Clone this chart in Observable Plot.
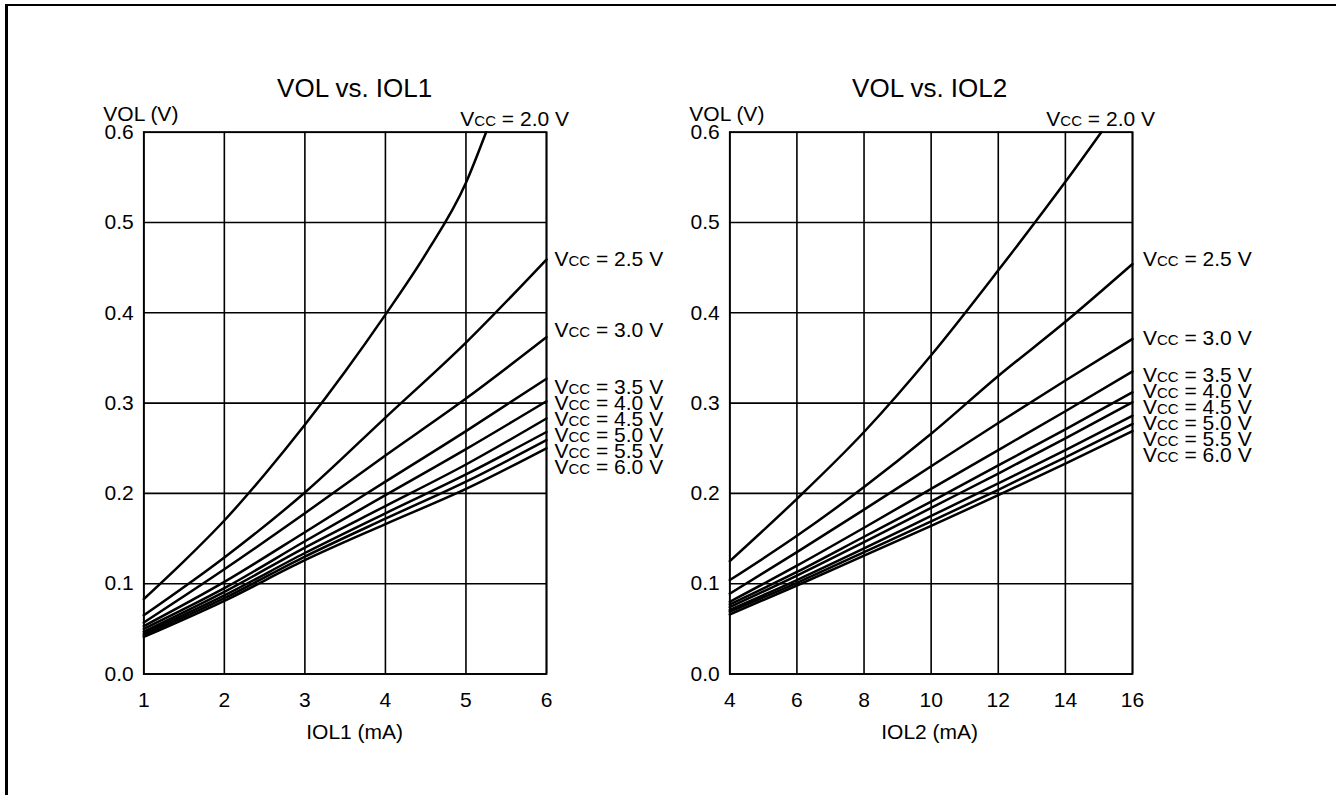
<!DOCTYPE html>
<html><head><meta charset="utf-8">
<script src="https://cdn.jsdelivr.net/npm/d3@7"></script>
<script src="https://cdn.jsdelivr.net/npm/@observablehq/plot@0.6"></script>
<style>
html,body{margin:0;padding:0;background:#fff;}
#page{position:relative;width:1336px;height:795px;overflow:hidden;background:#fff;}
#frame{position:absolute;left:5px;top:4px;width:1400px;height:900px;border-left:3px solid #000;border-top:2.5px solid #000;}
.panel{position:absolute;top:0;}
</style></head>
<body><div id="page"><div id="frame"></div><div id="p1" class="panel" style="left:0"></div><div id="p2" class="panel" style="left:668px"></div></div>
<script>
// ---- shared ----
const vccNames = ["2.5","3.0","3.5","4.0","4.5","5.0","5.5","6.0"];
const volTicks = [0, 0.1, 0.2, 0.3, 0.4, 0.5, 0.6];

// ---- panel 1 : VOL vs. IOL1 ----
const iol1Ticks = [1, 2, 3, 4, 5, 6];
const iol1Vcc20 = [1, 1.5, 2, 2.5, 3, 3.5, 4, 4.5, 5, 5.25];
const vol1Vcc20 = [0.083, 0.125, 0.170, 0.221, 0.276, 0.335, 0.398, 0.465, 0.544, 0.6];
const iol1Points = [1, 2, 3, 4, 5, 6];
const vol1Rows = [
  [0.065, 0.129, 0.201, 0.284, 0.367, 0.459], // 2.5
  [0.057, 0.116, 0.178, 0.242, 0.305, 0.373], // 3.0
  [0.053, 0.102, 0.157, 0.213, 0.269, 0.327], // 3.5
  [0.050, 0.095, 0.147, 0.198, 0.249, 0.302], // 4.0
  [0.047, 0.091, 0.140, 0.186, 0.232, 0.283], // 4.5
  [0.045, 0.087, 0.134, 0.178, 0.221, 0.268], // 5.0
  [0.043, 0.084, 0.130, 0.172, 0.213, 0.259], // 5.5
  [0.041, 0.081, 0.126, 0.166, 0.205, 0.250]  // 6.0
];
const vol1LabelAt = [0.459, 0.381, 0.317, 0.300, 0.2826, 0.2641, 0.2467, 0.229];

// ---- panel 2 : VOL vs. IOL2 ----
const iol2Ticks = [4, 6, 8, 10, 12, 14, 16];
const iol2Vcc20 = [4, 6, 8, 10, 12, 14, 15.07];
const vol2Vcc20 = [0.125, 0.194, 0.268, 0.353, 0.447, 0.545, 0.6];
const iol2Points = [4, 6, 8, 10, 12, 14, 16];
const vol2Rows = [
  [0.104, 0.153, 0.207, 0.266, 0.330, 0.390, 0.454], // 2.5
  [0.089, 0.135, 0.182, 0.230, 0.278, 0.325, 0.371], // 3.0
  [0.080, 0.120, 0.162, 0.205, 0.248, 0.291, 0.335], // 3.5
  [0.077, 0.113, 0.152, 0.191, 0.231, 0.271, 0.312], // 4.0
  [0.074, 0.109, 0.146, 0.184, 0.222, 0.261, 0.301], // 4.5
  [0.071, 0.104, 0.139, 0.175, 0.211, 0.248, 0.286], // 5.0
  [0.069, 0.101, 0.135, 0.169, 0.204, 0.240, 0.277], // 5.5
  [0.066, 0.098, 0.131, 0.164, 0.198, 0.233, 0.269]  // 6.0
];
const vol2LabelAt = [0.459, 0.3723, 0.3311, 0.3134, 0.2957, 0.2777, 0.2594, 0.242];

const FONT = "'Liberation Sans', Arial, Helvetica, sans-serif";

function panel(cfg) {
  const lines = [];
  cfg.x20.forEach((x, i) => lines.push({vcc: "2.0", x, y: cfg.y20[i]}));
  cfg.rows.forEach((row, k) => row.forEach((y, i) => lines.push({vcc: vccNames[k], x: cfg.xs[i], y})));
  const labels = vccNames.map((v, k) => ({text: `Vcc = ${v} V`, y: cfg.labelAt[k]}));
  return Plot.plot({
    width: 668, height: 795,
    marginLeft: cfg.ml, marginRight: cfg.mr, marginTop: 131.7, marginBottom: 121.5,
    style: {background: "transparent", overflow: "visible", maxWidth: "none", fontFamily: FONT, fontSize: "21px", color: "#000"},
    x: {domain: cfg.xDomain, ticks: cfg.xTicks, tickSize: 0, tickPadding: 18, label: null, tickFormat: d => String(d)},
    y: {domain: [0, 0.6], ticks: volTicks, tickSize: 0, tickPadding: 10, label: null, tickFormat: d3.format(".1f")},
    marks: [
      Plot.ruleX(cfg.xTicks, {stroke: "#000", strokeWidth: 1.6}),
      Plot.ruleY(volTicks, {stroke: "#000", strokeWidth: 1.6}),
      Plot.frame({stroke: "#000", strokeWidth: 1.8}),
      Plot.line(lines, {x: "x", y: "y", z: "vcc", curve: "monotone-x", stroke: "#000", strokeWidth: 2.5}),
      Plot.text(labels, {y: "y", text: "text", frameAnchor: "right", dx: cfg.labelDx, textAnchor: "start", fontSize: 21, fontVariant: "small-caps", fill: "#000"}),
      Plot.text(["Vcc = 2.0 V"], {text: d => d, frameAnchor: "top-right", dx: 22.5, dy: -21, textAnchor: "end", fontSize: 21, fontVariant: "small-caps", fill: "#000"}),
      Plot.text([cfg.title], {text: d => d, frameAnchor: "top", dx: cfg.titleDx, dy: -54, fontSize: 26, fill: "#000"}),
      Plot.text(["VOL (V)"], {text: d => d, frameAnchor: "top-left", dx: -40.5, dy: -26, textAnchor: "start", fontSize: 21, fill: "#000"}),
      Plot.text([cfg.xLabel], {text: d => d, frameAnchor: "bottom", dx: cfg.titleDx, dy: 64.5, fontSize: 21, fill: "#000"})
    ]
  });
}

document.getElementById("p1").appendChild(panel({
  xDomain: [1, 6], xTicks: iol1Ticks, x20: iol1Vcc20, y20: vol1Vcc20, xs: iol1Points, rows: vol1Rows,
  labelAt: vol1LabelAt, ml: 143.3, mr: 122, labelDx: 8, titleDx: 9.5,
  title: "VOL vs. IOL1", xLabel: "IOL1 (mA)"
}));
document.getElementById("p2").appendChild(panel({
  xDomain: [4, 16], xTicks: iol2Ticks, x20: iol2Vcc20, y20: vol2Vcc20, xs: iol2Points, rows: vol2Rows,
  labelAt: vol2LabelAt, ml: 61.3, mr: 204, labelDx: 10.5, titleDx: -1.5,
  title: "VOL vs. IOL2", xLabel: "IOL2 (mA)"
}));
</script>
</body></html>
